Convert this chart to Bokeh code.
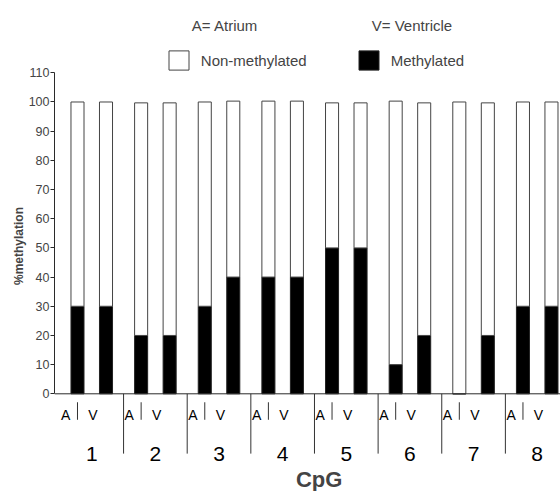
import numpy as np
from bokeh.plotting import figure
from bokeh.models import (ColumnDataSource, Range1d, FixedTicker, Span, Label,
                          Legend, LegendItem)
from bokeh.core.properties import value
from bokeh.embed import file_html
from bokeh.resources import INLINE

# ---- data ----
cpg_sites = ["1", "2", "3", "4", "5", "6", "7", "8"]
tissue_labels = ["A", "V"]
meth_atrium = [30, 20, 30, 40, 50, 10, 0, 30]
nonmeth_atrium = [70, 79.7, 70, 60.3, 49.7, 90.3, 100, 70]
meth_ventricle = [30, 20, 40, 40, 50, 20, 20, 30]
nonmeth_ventricle = [70, 79.7, 60.3, 60.3, 49.7, 79.7, 79.7, 70]
y_ticks = list(range(0, 111, 10))

FONT = "Liberation Sans"
LINE = "#2a2a2a"

group = np.arange(1, len(cpg_sites) + 1, dtype=float)
dx = 0.224
bar_w = 0.205

src = ColumnDataSource(dict(
    x=np.concatenate([group - dx, group + dx]),
    meth=meth_atrium + meth_ventricle,
    nonmeth=nonmeth_atrium + nonmeth_ventricle,
))

p = figure(width=560, height=491,
           x_range=Range1d(0.4147, 8.366), y_range=Range1d(-33.48, 134.78),
           output_backend="svg", toolbar_location=None, x_axis_type=None,
           min_border_left=54, min_border_right=0, min_border_top=0,
           min_border_bottom=0)
p.outline_line_color = None
p.ygrid.visible = False

rs = p.vbar_stack(["meth", "nonmeth"], x="x", width=bar_w, source=src,
                  fill_color=["black", "white"], line_color=["#222222", "#444444"],
                  line_width=1)

# y axis
ya = p.yaxis[0]
ya.ticker = FixedTicker(ticks=y_ticks)
ya.bounds = (0, 110)
ya.axis_label = "%methylation"
ya.axis_label_text_font = FONT
ya.axis_label_text_font_style = "bold"
ya.axis_label_text_font_size = "12px"
ya.axis_label_standoff = 0
ya.major_label_text_font = FONT
ya.major_label_text_font_size = "12.5px"
ya.major_label_standoff = 1
ya.major_tick_out = 4
ya.major_tick_in = 0
ya.minor_tick_line_color = None
ya.axis_line_color = LINE
ya.major_tick_line_color = LINE

# baseline
p.add_layout(Span(location=0, dimension="width", line_color=LINE, line_width=1))

# A / V labels under each group
av_x = np.concatenate([group - 0.41, group + 0.02])
av_t = [tissue_labels[0]] * len(group) + [tissue_labels[1]] * len(group)
p.text(x=av_x, y=-7.1, text=av_t, text_font=value(FONT), text_font_size="14px",
       text_align="center", text_baseline="alphabetic", text_color="black")

# small tick between A and V
p.segment(x0=group - dx, y0=-2.9, x1=group - dx, y1=-8.9, line_color="#333333",
          line_width=1)

# group separators
p.segment(x0=group[1:] - 0.5, y0=0, x1=group[1:] - 0.5, y1=-20.5,
          line_color="#333333", line_width=1)

# CpG numbers
p.text(x=group, y=-20.46, text=cpg_sites, text_font=value(FONT),
       text_font_size="21px", text_align="center", text_baseline="alphabetic",
       text_color="black")

p.add_layout(Label(x=4.574, y=-29.4, text="CpG", text_font=FONT,
                   text_font_size="22px", text_font_style="bold",
                   text_align="center", text_baseline="alphabetic"))

p.add_layout(Label(x=3.094, y=126.2, text="A= Atrium", text_font=FONT,
                   text_font_size="15px", text_align="center",
                   text_baseline="alphabetic"))
p.add_layout(Label(x=6.032, y=126.2, text="V= Ventricle", text_font=FONT,
                   text_font_size="15px", text_align="center",
                   text_baseline="alphabetic"))

legend = Legend(items=[LegendItem(label="Non-methylated", renderers=[rs[1]]),
                       LegendItem(label="Methylated", renderers=[rs[0]])],
                location=(111.8, 418.7), orientation="horizontal",
                glyph_width=25, glyph_height=24, label_standoff=10, spacing=49,
                padding=0, margin=0, border_line_color=None,
                background_fill_alpha=0, label_text_font=FONT,
                label_text_font_size="15px")
p.add_layout(legend)

open("out.html", "w").write(file_html(p, INLINE))
